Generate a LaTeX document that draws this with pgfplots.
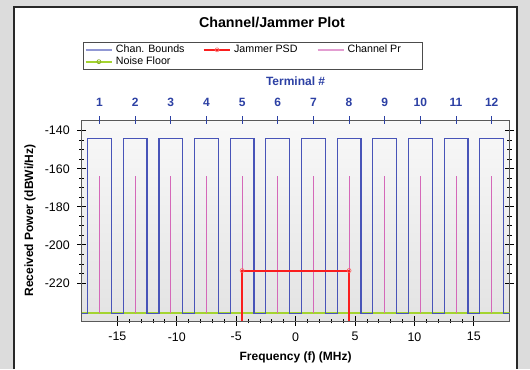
\documentclass[border=0pt]{standalone}
\usepackage{pgfplots}
\pgfplotsset{compat=1.18}
\usepackage{fontspec}
\setmainfont{Liberation Sans}
\definecolor{bggray}{RGB}{220,220,220}
\definecolor{panelborder}{RGB}{40,40,40}
\definecolor{chanblue}{RGB}{72,84,184}
\definecolor{prpink}{RGB}{212,104,184}
\definecolor{jamred}{RGB}{250,30,30}
\definecolor{nfgreen}{RGB}{164,212,48}
\definecolor{termblue}{RGB}{44,64,164}
\begin{document}
\begin{tikzpicture}
\fill[bggray] (-61.275pt,-36pt) rectangle (336.225pt,240.75pt);
\fill[white] (-50.775pt,-36pt) rectangle (326.475pt,235.5pt);
\draw[panelborder, line width=1pt] (-50.775pt,-36pt) -- (-50.775pt,235.5pt) -- (326.475pt,235.5pt) -- (326.475pt,-36pt);
\node[font=\bfseries\fontsize{10.7}{12}\selectfont] at (142.7pt,224.25pt) {Channel/Jammer Plot};
\begin{axis}[
  at={(0pt,0pt)}, anchor=south west,
  width=320.85pt, height=150.75pt, scale only axis,
  xmin=-18, xmax=18, ymin=-240, ymax=-134.4,
  xtick={-15,-10,-5,0,5,10,15}, xticklabels={-15,-10,-5,0,5,10,15},
  ytick={-220,-200,-180,-160,-140}, yticklabels={-220,-200,-180,-160,-140},
  minor x tick num=4, minor y tick num=3,
  xtick pos=left, tick align=center,
  major tick length=7pt, minor tick length=3.5pt,
  tick style={black, line width=0.6pt},
  axis line style={gray!70!black, line width=0.6pt},
  ticklabel style={font=\fontsize{9.3}{10}\selectfont},
  xticklabel style={yshift=-1.5pt},
  yticklabel style={xshift=-2pt},
  axis background/.style={top color=gray!5, bottom color=gray!22},
  xlabel={Frequency (f) (MHz)},
  ylabel={Received Power (dBWi/Hz)},
  xlabel style={font=\bfseries\fontsize{9}{10}\selectfont, at={(axis description cs:0.5,-0.179)}, anchor=center},
  ylabel style={font=\bfseries\fontsize{9}{10}\selectfont, at={(axis description cs:-0.121,0.5)}, anchor=center},
  unbounded coords=jump,
  legend columns=3,
  legend cell align=left,
  legend style={at={(0,1)}, anchor=south west, xshift=0.8pt, yshift=38pt, draw=gray!60!black, line width=0.6pt,
    font=\fontsize{8}{9}\selectfont, inner xsep=1pt, inner ysep=1pt,
    nodes={inner ysep=0.8pt}},
]
\addlegendimage{legend image code/.code={\draw[draw=chanblue!60, line width=1.1pt] plot coordinates {(0pt,0pt) (10pt,0pt) (20pt,0pt)};}}
\addlegendentry{\makebox[63pt][l]{Chan. Bounds}}
\addlegendimage{legend image code/.code={\draw[draw=jamred, line width=1.6pt] plot coordinates {(0pt,0pt) (10pt,0pt) (20pt,0pt)};
  \draw[draw=jamred!60, line width=0.5pt, mark=o, mark size=1.5pt, only marks] plot coordinates {(10pt,0pt)};}}
\addlegendentry{\makebox[60pt][l]{Jammer PSD}}
\addlegendimage{legend image code/.code={\draw[draw=prpink!65, line width=1.1pt] plot coordinates {(0pt,0pt) (10pt,0pt) (20pt,0pt)};}}
\addlegendentry{\makebox[53pt][l]{Channel Pr}}
\addlegendimage{legend image code/.code={\draw[draw=nfgreen, line width=1.6pt] plot coordinates {(0pt,0pt) (10pt,0pt) (20pt,0pt)};
  \draw[draw=nfgreen!80!black, line width=0.5pt, mark=o, mark size=1.5pt, only marks] plot coordinates {(10pt,0pt)};}}
\addlegendentry{Noise Floor}

\addplot[nfgreen, line width=1.6pt, forget plot] coordinates {(-18,-236) (18,-236)};
\addplot[chanblue, line width=0.9pt, forget plot] coordinates {
(-18,-236)
(-17.5,-236) (-17.5,-144) (-15.5,-144) (-15.5,-236)
(-14.5,-236) (-14.5,-144) (-12.5,-144) (-12.5,-236)
(-11.5,-236) (-11.5,-144) (-9.5,-144) (-9.5,-236)
(-8.5,-236) (-8.5,-144) (-6.5,-144) (-6.5,-236)
(-5.5,-236) (-5.5,-144) (-3.5,-144) (-3.5,-236)
(-2.5,-236) (-2.5,-144) (-0.5,-144) (-0.5,-236)
(0.5,-236) (0.5,-144) (2.5,-144) (2.5,-236)
(3.5,-236) (3.5,-144) (5.5,-144) (5.5,-236)
(6.5,-236) (6.5,-144) (8.5,-144) (8.5,-236)
(9.5,-236) (9.5,-144) (11.5,-144) (11.5,-236)
(12.5,-236) (12.5,-144) (14.5,-144) (14.5,-236)
(15.5,-236) (15.5,-144) (17.5,-144) (17.5,-236)
(18,-236)
};
\addplot[prpink, line width=0.7pt, forget plot] coordinates {
(-16.5,-236) (-16.5,-164) (-16.5,nan)
(-13.5,-236) (-13.5,-164) (-13.5,nan)
(-10.5,-236) (-10.5,-164) (-10.5,nan)
(-7.5,-236) (-7.5,-164) (-7.5,nan)
(-4.5,-236) (-4.5,-164) (-4.5,nan)
(-1.5,-236) (-1.5,-164) (-1.5,nan)
(1.5,-236) (1.5,-164) (1.5,nan)
(4.5,-236) (4.5,-164) (4.5,nan)
(7.5,-236) (7.5,-164) (7.5,nan)
(10.5,-236) (10.5,-164) (10.5,nan)
(13.5,-236) (13.5,-164) (13.5,nan)
(16.5,-236) (16.5,-164)
};
\addplot[jamred, line width=1.6pt, forget plot] coordinates {(-4.5,-240) (-4.5,-213.5) (4.5,-213.5) (4.5,-240)};
\addplot[only marks, mark=o, mark size=1.5pt, draw=jamred!70, line width=0.5pt, forget plot] coordinates {(-4.5,-213.5) (4.5,-213.5)};
\end{axis}
\begin{axis}[
  at={(0pt,0pt)}, anchor=south west,
  width=320.85pt, height=150.75pt, scale only axis,
  xmin=-18, xmax=18, ymin=0, ymax=1,
  axis x line*=top, axis y line=none,
  x axis line style={draw=none},
  xtick={-16.5,-13.5,-10.5,-7.5,-4.5,-1.5,1.5,4.5,7.5,10.5,13.5,16.5},
  xticklabels={1,2,3,4,5,6,7,8,9,10,11,12},
  tick align=center, major tick length=6pt,
  tick style={termblue, line width=0.7pt},
  xticklabel style={font=\bfseries\fontsize{9}{10}\selectfont, text=termblue, yshift=3.5pt},
  xlabel={Terminal \#},
  xlabel style={font=\bfseries\fontsize{9}{10}\selectfont, text=termblue, at={(axis description cs:0.5,1.194)}, anchor=center},
]
\end{axis}
\pgfresetboundingbox
\useasboundingbox (-61.275pt,-36pt) rectangle (336.225pt,240.75pt);
\end{tikzpicture}
\end{document}
